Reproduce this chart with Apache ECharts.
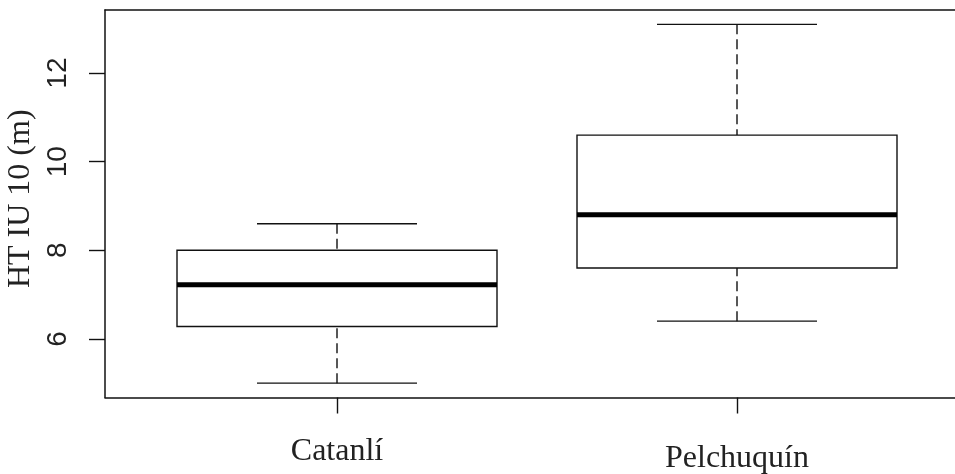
<!DOCTYPE html>
<html>
<head>
<meta charset="utf-8">
<script src="https://cdn.jsdelivr.net/npm/echarts@6/dist/echarts.min.js"></script>
<style>
  html, body { margin: 0; padding: 0; background: #fff; overflow: hidden; }
  #chart { width: 955px; height: 474px; }
</style>
</head>
<body>
<div id="chart"></div>
<script>
// Sites and their box statistics (tree height, m)
const categories = ['Catanlí', 'Pelchuquín'];
const whiskerLow = [5.0, 6.4];
const quartile1 = [6.28, 7.6];
const median = [7.22, 8.8];
const quartile3 = [8.0, 10.6];
const whiskerHigh = [8.6, 13.1];
const yTicks = [6, 8, 10, 12];
const xTicks = [1, 2];

// R-style axis limits: data range padded by 4% on each side
const yLo = Math.min(...whiskerLow), yHi = Math.max(...whiskerHigh);
const yPad = (yHi - yLo) * 0.04;
const xPad = 2 * 0.04;

const rows = categories.map((c, i) => [i + 1, whiskerLow[i], quartile1[i], median[i], quartile3[i], whiskerHigh[i]]);

const ink = '#111';
const frameLine = { show: true, onZero: false, lineStyle: { color: ink, width: 1.5 } };

function renderBox(params, api) {
  const x = api.value(0);
  const halfBox = api.size([0.4, 0])[0];
  const halfCap = api.size([0.2, 0])[0];
  const c = api.coord([x, 0])[0];
  const yMin = api.coord([x, api.value(1)])[1];
  const yQ1 = api.coord([x, api.value(2)])[1];
  const yMed = api.coord([x, api.value(3)])[1];
  const yQ3 = api.coord([x, api.value(4)])[1];
  const yMax = api.coord([x, api.value(5)])[1];
  const thin = { stroke: ink, lineWidth: 1.4, fill: null };
  const dashed = { stroke: ink, lineWidth: 1.4, lineDash: [10, 5] };
  return {
    type: 'group',
    children: [
      { type: 'line', shape: { x1: c, y1: yMin, x2: c, y2: yQ1 }, style: dashed },
      { type: 'line', shape: { x1: c, y1: yMax, x2: c, y2: yQ3 }, style: dashed },
      { type: 'line', shape: { x1: c - halfCap, y1: yMin, x2: c + halfCap, y2: yMin }, style: thin },
      { type: 'line', shape: { x1: c - halfCap, y1: yMax, x2: c + halfCap, y2: yMax }, style: thin },
      { type: 'rect', shape: { x: c - halfBox, y: yQ3, width: 2 * halfBox, height: yQ1 - yQ3 },
        style: { stroke: ink, lineWidth: 1.4, fill: '#fff' } },
      { type: 'line', shape: { x1: c - halfBox, y1: yMed, x2: c + halfBox, y2: yMed },
        style: { stroke: '#000', lineWidth: 5 } }
    ]
  };
}

const chart = echarts.init(document.getElementById('chart'), null, { renderer: 'canvas' });
chart.setOption({
  animation: false,
  backgroundColor: '#fff',
  grid: {
    left: 105, top: 10, width: 864, height: 387.5,
    show: false, containLabel: false, outerBoundsMode: 'none'
  },
  xAxis: [{
    type: 'value',
    position: 'bottom',
    min: 1 - 0.5 - xPad, max: 2 + 0.5 + xPad,
    axisLine: frameLine,
    splitLine: { show: false },
    axisTick: { show: true, customValues: xTicks, length: 16, lineStyle: { color: ink, width: 1.4 } },
    axisLabel: {
      show: true, customValues: xTicks, margin: 38,
      formatter: v => (v === 1 ? '{a|' : '{b|') + categories[v - 1] + '}',
      rich: {
        a: { fontFamily: 'Liberation Serif', fontSize: 32, color: '#222' },
        b: { fontFamily: 'Liberation Serif', fontSize: 32, color: '#222', padding: [7, 0, 0, 0] }
      }
    }
  }, {
    // top edge of the plot frame
    type: 'value',
    position: 'top',
    min: 1 - 0.5 - xPad, max: 2 + 0.5 + xPad,
    axisLine: frameLine,
    axisTick: { show: false },
    axisLabel: { show: false },
    splitLine: { show: false }
  }],
  yAxis: {
    type: 'value',
    min: yLo - yPad, max: yHi + yPad,
    axisLine: frameLine,
    splitLine: { show: false },
    axisTick: { show: true, customValues: yTicks, length: 16, lineStyle: { color: ink, width: 1.4 } },
    axisLabel: {
      show: true, customValues: yTicks, rotate: 90, margin: 33,
      fontFamily: 'Liberation Sans', fontSize: 28, color: '#222'
    },
    name: 'HT IU 10 (m)',
    nameLocation: 'middle',
    nameRotate: 90,
    nameGap: 63,
    nameTextStyle: { fontFamily: 'Liberation Serif', fontSize: 32, color: '#222', padding: [0, 0, 0, 10] }
  },
  series: [{
    type: 'custom',
    renderItem: renderBox,
    encode: { x: 0, y: [1, 2, 3, 4, 5] },
    data: rows,
    clip: false
  }]
});
</script>
</body>
</html>
